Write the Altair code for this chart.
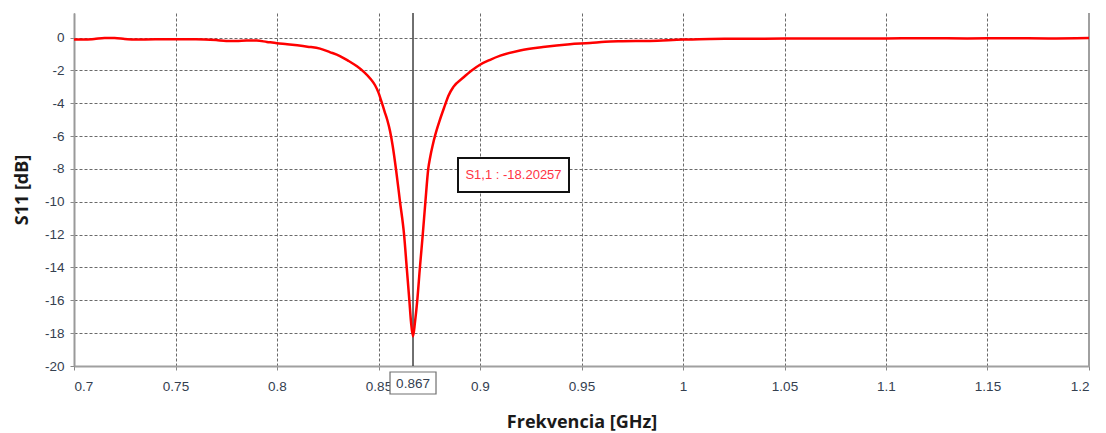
import altair as alt
import pandas as pd

# ---- data ----
freq_ghz = [0.700, 0.705, 0.710, 0.715, 0.720, 0.725, 0.730, 0.740, 0.750, 0.760,
            0.770, 0.775, 0.780, 0.785, 0.790, 0.795, 0.800, 0.805, 0.810, 0.815,
            0.8212, 0.826, 0.831, 0.835, 0.8394, 0.8429, 0.8460, 0.8483, 0.8500, 0.8516,
            0.8530, 0.8543, 0.8557, 0.8570, 0.8586, 0.8606, 0.8626, 0.8639, 0.8652, 0.8660,
            0.8670, 0.8680, 0.8691, 0.8704, 0.8718, 0.8731, 0.8745, 0.8755, 0.8767, 0.8778,
            0.8800, 0.8828, 0.8844, 0.8869, 0.8918, 0.8959, 0.9000, 0.905, 0.910, 0.9197,
            0.9310, 0.9443, 0.9542, 0.9616, 0.970, 0.9837, 1.000, 1.0133, 1.03, 1.05,
            1.07, 1.09, 1.10, 1.12, 1.14, 1.16, 1.18, 1.20]
s11_db = [-0.12, -0.12, -0.08, -0.02, -0.03, -0.08, -0.12, -0.10, -0.10, -0.10,
          -0.15, -0.20, -0.20, -0.17, -0.18, -0.26, -0.34, -0.40, -0.47, -0.55,
          -0.67, -0.88, -1.12, -1.40, -1.75, -2.10, -2.50, -2.90, -3.35, -3.95,
          -4.50, -5.00, -5.70, -6.60, -8.00, -10.00, -12.00, -14.00, -16.00, -17.30,
          -18.20, -17.30, -16.00, -14.00, -12.00, -10.00, -8.00, -7.25, -6.55, -6.00,
          -5.10, -4.10, -3.55, -3.00, -2.43, -2.00, -1.65, -1.35, -1.10, -0.78,
          -0.57, -0.40, -0.33, -0.25, -0.22, -0.20, -0.12, -0.08, -0.07, -0.06,
          -0.05, -0.06, -0.05, -0.04, -0.05, -0.04, -0.05, -0.02]

x_ticks = [0.7, 0.75, 0.8, 0.85, 0.9, 0.95, 1.0, 1.05, 1.1, 1.15, 1.2]
y_ticks = [0, -2, -4, -6, -8, -10, -12, -14, -16, -18, -20]
x_domain = [0.7, 1.2]
y_domain = [-20, 1.5]

marker_freq = 0.867
marker_label = "0.867"
marker_text = "S1,1 : -18.20257"

x_title = "Frekvencia [GHz]"
y_title = "S11 [dB]"

LABEL_FONT = "Liberation Sans"
TITLE_FONT = "Open Sans"
LABEL_COLOR = "#34404f"

W, H = 1015, 353

df = pd.DataFrame({"f": freq_ghz, "s": s11_db})
one = pd.DataFrame({"k": [0]})

x_scale = alt.Scale(domain=x_domain, nice=False, zero=False)
y_scale = alt.Scale(domain=y_domain, nice=False, zero=False)

x_axis = alt.Axis(
    values=x_ticks, labelExpr="'' + datum.value", title=x_title,
    grid=True, gridDash=[3, 2], gridColor="#6a6a6a", gridWidth=1,
    domainColor="#a0a0a0", domainWidth=2, tickColor="#888888", tickSize=4,
    labelPadding=9, labelFont=LABEL_FONT, labelFontSize=13.5, labelColor=LABEL_COLOR,
    titleFont=TITLE_FONT, titleFontSize=18, titleFontWeight="bold", titleColor="#1a1a1a",
    titleY=56, titleBaseline="middle",
)
y_axis = alt.Axis(
    values=y_ticks, labelExpr="'' + datum.value", title=y_title,
    grid=True, gridDash=[3, 2], gridColor="#6a6a6a", gridWidth=1,
    domainColor="#999999", domainWidth=2, tickColor="#888888", tickSize=4,
    labelPadding=6, labelFont=LABEL_FONT, labelFontSize=13.5, labelColor=LABEL_COLOR,
    titleFont=TITLE_FONT, titleFontSize=18, titleFontWeight="bold", titleColor="#1a1a1a",
    titleX=-52, titleY=H / 2, titleBaseline="middle", titleAngle=-90,
)

line = alt.Chart(df).mark_line(color="#ff0000", strokeWidth=2.5, interpolate="monotone").encode(
    x=alt.X("f:Q", scale=x_scale, axis=x_axis),
    y=alt.Y("s:Q", scale=y_scale, axis=y_axis),
)

right_border = alt.Chart(one).mark_rule(color="#a0a0a0", strokeWidth=2).encode(
    x=alt.X(datum=x_domain[1], type="quantitative"),
    y=alt.value(0), y2=alt.value(H),
)

marker_rule = alt.Chart(one).mark_rule(color="#404040", strokeWidth=1.5).encode(
    x=alt.X(datum=marker_freq, type="quantitative"),
    y=alt.value(0), y2=alt.value(H),
)

marker_box = alt.Chart(one).mark_rect(
    fill="white", stroke="#707070", strokeWidth=1.2, xOffset=-23, x2Offset=23
).encode(
    x=alt.X(datum=marker_freq, type="quantitative"),
    x2=alt.X2(datum=marker_freq),
    y=alt.value(H + 6), y2=alt.value(H + 28),
)

marker_box_text = alt.Chart(one).mark_text(
    font=LABEL_FONT, fontSize=13.5, color=LABEL_COLOR, baseline="middle", align="center"
).encode(
    x=alt.X(datum=marker_freq, type="quantitative"),
    y=alt.value(H + 18),
    text=alt.value(marker_label),
)

note_box = alt.Chart(one).mark_rect(fill="white", stroke="#111111", strokeWidth=2).encode(
    x=alt.value(384), x2=alt.value(495), y=alt.value(145), y2=alt.value(179),
)
note_text = alt.Chart(one).mark_text(
    font=LABEL_FONT, fontSize=13, color="#ff3344", baseline="middle", align="center"
).encode(
    x=alt.value(439.5), y=alt.value(162), text=alt.value(marker_text),
)

chart = alt.layer(
    right_border, marker_rule, line, marker_box, marker_box_text, note_box, note_text
).properties(
    width=W, height=H,
    autosize=alt.AutoSizeParams(type="none"),
    padding={"left": 74, "top": 13, "right": 17, "bottom": 67},
    background="white",
).configure_view(stroke=None)

chart.save("out.html", embed_options={"renderer": "svg", "actions": False})
